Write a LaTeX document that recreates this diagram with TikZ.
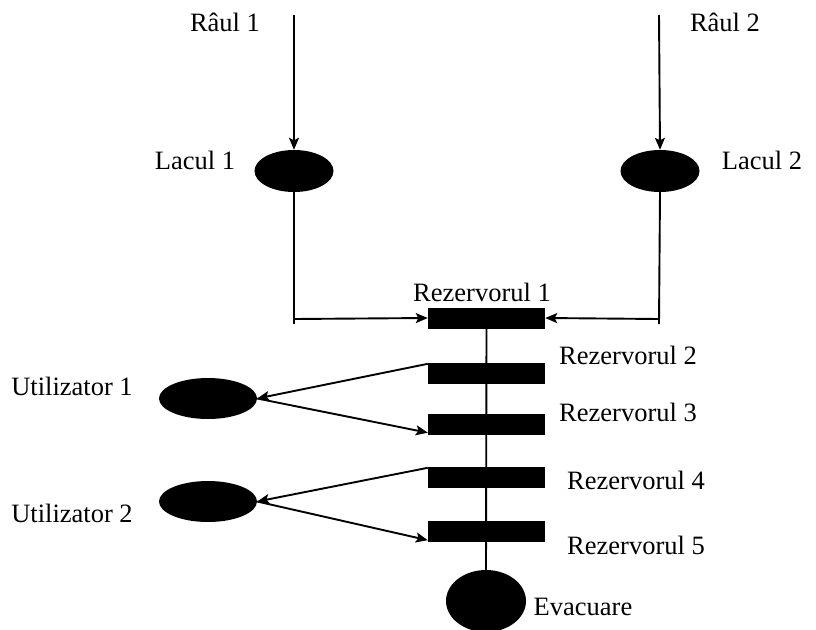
\documentclass[tikz,border=0pt]{standalone}
\usepackage{fontspec}
\setmainfont{Liberation Serif}
\usetikzlibrary{arrows.meta,shapes.geometric}
\begin{document}
\begin{tikzpicture}[x=1pt,y=-1pt,
  lbl/.style={font=\fontsize{26.5}{31}\selectfont, inner sep=0pt},
  blob/.style={ellipse, fill=black, draw=none, inner sep=0pt},
  tank/.style={rectangle, fill=black, draw=none, inner sep=0pt, minimum width=117pt, minimum height=21pt},
  flow/.style={line width=1.9pt, -{Stealth[length=12pt,width=10pt,inset=2.5pt]}},
  pipe/.style={line width=1.9pt}]
\useasboundingbox (0,0) rectangle (816,629);
% lakes and users
\node[blob, minimum width=79pt, minimum height=42pt] (l1) at (294,171) {};
\node[blob, minimum width=79pt, minimum height=42pt] (l2) at (660,171) {};
\node[blob, minimum width=98pt, minimum height=41pt] (u1) at (208,398.5) {};
\node[blob, minimum width=98pt, minimum height=41pt] (u2) at (208,501.5) {};
\node[blob, minimum width=80pt, minimum height=62pt] (ev) at (486,601) {};
% tanks
\node[tank] (r1) at (486.5,318) {};
\node[tank] (r2) at (486.5,373.5) {};
\node[tank] (r3) at (486.5,424) {};
\node[tank] (r4) at (486.5,477.5) {};
\node[tank] (r5) at (486.5,531.5) {};
% labels
\node[lbl] (tR1) at (225,22) {Râul 1};
\node[lbl] (tR2) at (725,22) {Râul 2};
\node[lbl] (tL1) at (195,160) {Lacul 1};
\node[lbl] (tL2) at (762,160) {Lacul 2};
\node[lbl] (tZ1) at (482,292) {Rezervorul 1};
\node[lbl] (tZ2) at (628,355) {Rezervorul 2};
\node[lbl] (tZ3) at (628,412) {Rezervorul 3};
\node[lbl] (tZ4) at (636,480) {Rezervorul 4};
\node[lbl] (tZ5) at (636,545) {Rezervorul 5};
\node[lbl] (tEv) at (583,607) {Evacuare};
\node[lbl] (tU1) at (72,386) {Utilizator 1};
\node[lbl] (tU2) at (72,513) {Utilizator 2};
% free ends
\coordinate (s1) at (294,15);
\coordinate (s2) at (659,15);
\coordinate (c1) at (294,324);
\coordinate (c1a) at (294,319);
\coordinate (c2) at (659,324);
\coordinate (c2a) at (659,319);
% connectors
\draw[flow] (s1) -- (l1.north);
\draw[flow] (s2) -- (l2.north);
\draw[pipe] (l1.south) -- (c1);
\draw[pipe] (l2.south) -- (c2);
\draw[flow] (c1a) -- (r1.west);
\draw[flow] (c2a) -- (r1.east);
\draw[pipe] (r1.south) -- (ev.north);
\draw[flow] ([yshift=-1pt]r2.north west) -- (u1.east);
\draw[flow] (u1.east) -- ([yshift=2pt]r3.south west);
\draw[flow] ([yshift=-1pt]r4.north west) -- (u2.east);
\draw[flow] (u2.east) -- ([yshift=2pt]r5.south west);
\end{tikzpicture}
\end{document}
